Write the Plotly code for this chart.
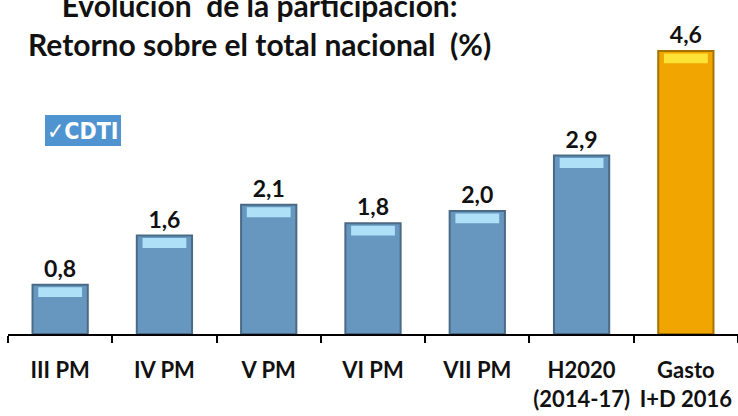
import plotly.graph_objects as go

categories = ["III PM", "IV PM", "V PM", "VI PM", "VII PM", "H2020<br>(2014-17)", "Gasto<br>I+D 2016"]
values = [0.8, 1.6, 2.1, 1.8, 2.0, 2.9, 4.6]
bar_colors = ["#6797bf"] * 6 + ["#f0a500"]
edge_colors = ["#4a6a86"] * 6 + ["#a57400"]
hi_colors = ["#aee0f7"] * 6 + ["#ffe236"]
labels = [f"<b>{v:.1f}</b>".replace(".", ",") for v in values]

FONT = "Lato"
hi_h = 0.16

W, H, ML, MB = 738, 416, 8, 82
PW, PH = W - ML, H - MB


def px(x):
    return (x - ML) / PW


def py(y):
    return 1 - y / PH


fig = go.Figure()
fig.add_trace(go.Bar(
    x=categories, y=values, width=0.53,
    marker=dict(color=bar_colors, line=dict(color=edge_colors, width=2)),
    text=labels, textposition="outside",
    textfont=dict(family=FONT, size=23, color="#111111"),
    cliponaxis=False, hoverinfo="skip",
))
fig.add_trace(go.Bar(
    x=categories, y=[hi_h] * len(values), base=[v - hi_h - 0.04 for v in values],
    width=0.42,
    marker=dict(color=hi_colors, line=dict(width=0)),
    hoverinfo="skip",
))

fig.add_annotation(
    x=px(259), y=1, xref="paper", yref="paper", xanchor="center", yanchor="top",
    yshift=15, showarrow=False, align="center",
    text="<b>Evolución  de la participación:</b><br><b>Retorno sobre el total nacional  (%)</b>",
    font=dict(family=FONT, size=30, color="#111111"),
)
fig.add_shape(type="rect", xref="paper", yref="paper",
              x0=px(45), x1=px(121), y0=py(146), y1=py(115),
              fillcolor="#4f94d0", line=dict(width=0), layer="below")
fig.add_annotation(
    x=px(83), y=py(130.5), xref="paper", yref="paper", showarrow=False,
    xanchor="center", yanchor="middle",
    text="<b>✓CDTI</b>", font=dict(family="DejaVu Sans Condensed", size=23, color="white"),
)

fig.update_layout(
    width=W, height=H, barmode="overlay", showlegend=False,
    margin=dict(l=ML, r=0, t=0, b=MB, autoexpand=False),
    paper_bgcolor="white", plot_bgcolor="rgba(0,0,0,0)",
    xaxis=dict(type="category", showline=True, linecolor="black", linewidth=2,
               ticks="outside", tickson="boundaries", ticklen=7, tickwidth=2, tickcolor="black",
               tickfont=dict(family=FONT, size=22, color="#111111"), showgrid=False,
               automargin=False, tickangle=0, ticklabelstandoff=16,
               tickvals=categories, ticktext=[f"<b>{c}</b>" for c in categories]),
    yaxis=dict(range=[0, 5.43], visible=False, showgrid=False, automargin=False),
)
fig.write_html("out.html", config={"displayModeBar": False},
               post_script="document.body.style.margin='0';")
